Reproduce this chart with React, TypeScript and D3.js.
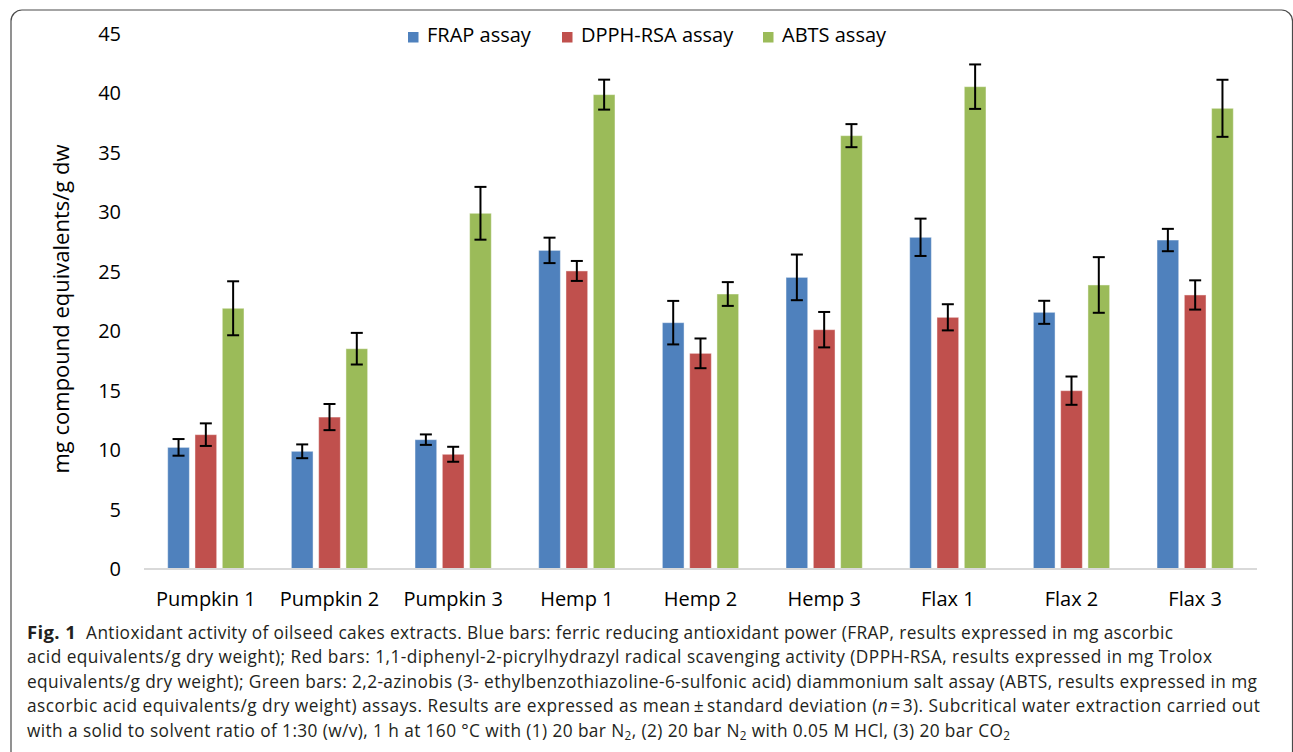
import React from "react";
import * as d3 from "d3";

const categories = ["Pumpkin 1", "Pumpkin 2", "Pumpkin 3", "Hemp 1", "Hemp 2", "Hemp 3", "Flax 1", "Flax 2", "Flax 3"];
const seriesNames = ["FRAP assay", "DPPH-RSA assay", "ABTS assay"];
const seriesColors = ["#4F81BD", "#C0504D", "#9BBB59"];
const frapValues = [10.23, 9.9, 10.88, 26.8, 20.72, 24.53, 27.9, 21.59, 27.67];
const frapSD = [0.7, 0.58, 0.44, 1.07, 1.83, 1.92, 1.57, 0.97, 0.94];
const dpphValues = [11.3, 12.78, 9.65, 25.07, 18.14, 20.13, 21.17, 15.0, 23.05];
const dpphSD = [0.95, 1.1, 0.63, 0.84, 1.25, 1.49, 1.1, 1.19, 1.23];
const abtsValues = [21.93, 18.53, 29.92, 39.9, 23.13, 36.45, 40.57, 23.89, 38.75];
const abtsSD = [2.27, 1.33, 2.22, 1.26, 1.0, 0.97, 1.87, 2.34, 2.4];
const yTicks = [0, 5, 10, 15, 20, 25, 30, 35, 40, 45];
const yTitle = "mg compound equivalents/g dw";

const values = [frapValues, dpphValues, abtsValues];
const sds = [frapSD, dpphSD, abtsSD];

const W = 1293;
const H = 752;
const FONT = "'Open Sans', sans-serif";

export default function App() {
  const x0 = d3.scaleBand<string>().domain(categories).range([144, 1257]).paddingInner(0).paddingOuter(0);
  const x1 = d3.scaleBand<string>().domain(seriesNames).range([-38.15, 38.15]).paddingInner(0.205).paddingOuter(0);
  const y = d3.scaleLinear().domain([0, 45]).range([569, 34]);
  const bw = x1.bandwidth();

  const legendX = [408, 562, 763];

  const capFont = 17.3;
  const sub = (t: string) => (
    <tspan baselineShift={-3} fontSize={capFont * 0.68}>{t}</tspan>
  );

  return (
    <svg width={W} height={H} style={{ position: "absolute", left: 0, top: 0, background: "#fff" }}>
      <rect x={11} y={10} width={1281.5} height={800} rx={11} ry={11} fill="none" stroke="#4a4a4a" strokeWidth={1.2} />

      {/* y tick labels */}
      {yTicks.map((t) => (
        <text key={t} x={121} y={y(t) + 7} textAnchor="end" fontFamily={FONT} fontSize={20} fill="#000">
          {t}
        </text>
      ))}

      {/* y title */}
      <text
        transform={`translate(69, 309) rotate(-90)`}
        textAnchor="middle"
        fontFamily={FONT}
        fontSize={22}
        fill="#000"
      >
        {yTitle}
      </text>

      {/* bars */}
      {categories.map((c, i) => (
        <g key={c} transform={`translate(${x0(c)! + x0.bandwidth() / 2},0)`}>
          {seriesNames.map((s, k) => {
            const v = values[k][i];
            const sd = sds[k][i];
            const bx = x1(s)!;
            const cx = bx + bw / 2;
            return (
              <g key={s}>
                <rect
                  x={bx}
                  y={y(v)}
                  width={bw}
                  height={y(0) - y(v)}
                  fill={seriesColors[k]}
                  stroke="#ffffff"
                  strokeOpacity={0.45}
                  strokeWidth={1}
                />
                <line x1={cx} x2={cx} y1={y(v + sd)} y2={y(v - sd)} stroke="#000" strokeWidth={2} />
                <line x1={cx - 6} x2={cx + 6} y1={y(v + sd)} y2={y(v + sd)} stroke="#000" strokeWidth={2} />
                <line x1={cx - 6} x2={cx + 6} y1={y(v - sd)} y2={y(v - sd)} stroke="#000" strokeWidth={2} />
              </g>
            );
          })}
        </g>
      ))}

      {/* x axis line */}
      <line x1={144} x2={1257} y1={y(0)} y2={y(0)} stroke="#d9d9d9" strokeWidth={2} />

      {/* x labels */}
      {categories.map((c) => (
        <text key={c} x={x0(c)! + x0.bandwidth() / 2} y={606} textAnchor="middle" fontFamily={FONT} fontSize={20} fill="#000">
          {c}
        </text>
      ))}

      {/* legend */}
      {seriesNames.map((s, k) => (
        <g key={s}>
          <rect x={legendX[k]} y={32} width={10.5} height={10.5} fill={seriesColors[k]} />
          <text x={legendX[k] + 19} y={42} fontFamily={FONT} fontSize={20} fill="#000">
            {s}
          </text>
        </g>
      ))}

      {/* caption */}
      <g fontFamily={FONT} fontSize={capFont} fill="#231f20">
        <text x={27} y={638.5} textLength={1146} lengthAdjust="spacing">
          <tspan fontWeight="bold" fontSize={18.5}>Fig. 1</tspan>
          <tspan dx={10}>Antioxidant activity of oilseed cakes extracts. Blue bars: ferric reducing antioxidant power (FRAP, results expressed in mg ascorbic</tspan>
        </text>
        <text x={27} y={663} textLength={1185} lengthAdjust="spacing">
          acid equivalents/g dry weight); Red bars: 1,1-diphenyl-2-picrylhydrazyl radical scavenging activity (DPPH-RSA, results expressed in mg Trolox
        </text>
        <text x={27} y={687.5} textLength={1230} lengthAdjust="spacing">
          equivalents/g dry weight); Green bars: 2,2-azinobis (3- ethylbenzothiazoline-6-sulfonic acid) diammonium salt assay (ABTS, results expressed in mg
        </text>
        <text x={27} y={712} textLength={1233} lengthAdjust="spacing">
          ascorbic acid equivalents/g dry weight) assays. Results are expressed as mean<tspan dx={3}>±</tspan><tspan dx={3}>standard deviation (</tspan><tspan fontStyle="italic">n</tspan><tspan dx={2}>=</tspan><tspan dx={2}>3). Subcritical water extraction carried out</tspan>
        </text>
        <text x={27} y={736.5} textLength={983} lengthAdjust="spacing">
          with a solid to solvent ratio of 1:30 (w/v), 1 h at 160 °C with (1) 20 bar N{sub("2")}, (2) 20 bar N{sub("2")} with 0.05 M HCl, (3) 20 bar CO{sub("2")}
        </text>
      </g>
    </svg>
  );
}
